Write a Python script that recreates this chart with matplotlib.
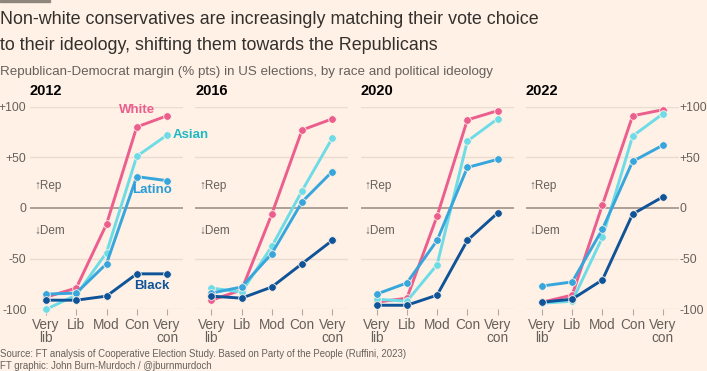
import matplotlib.pyplot as plt
from matplotlib.patches import Rectangle

# ideology categories and election years
categories = ["Very\nlib", "Lib", "Mod", "Con", "Very\ncon"]
years = ["2012", "2016", "2020", "2022"]

# Republican-Democrat margin (% pts), one list per year
white = [[-88, -79, -16, 80, 91],
         [-91, -81, -6, 77, 88],
         [-93, -89, -8, 87, 96],
         [-93, -86, 3, 91, 97]]
asian = [[-100, -86, -44, 51, 72],
         [-79, -83, -38, 17, 69],
         [-90, -92, -56, 66, 88],
         [-94, -92, -29, 71, 93]]
latino = [[-85, -84, -55, 31, 27],
          [-84, -78, -45, 6, 36],
          [-85, -74, -32, 40, 48],
          [-77, -73, -21, 46, 62]]
black = [[-91, -91, -87, -65, -65],
         [-87, -89, -78, -55, -32],
         [-96, -96, -86, -32, -5],
         [-93, -90, -71, -6, 11]]

yticks = [100, 50, 0, -50, -100]
ytick_labels = ["+100", "+50", "0", "-50", "-100"]

bg = "#fff1e5"
grey = "#66605c"
series = [
    ("White", white, "#eb5e8d"),
    ("Asian", asian, "#6ddce6"),
    ("Latino", latino, "#37a6dc"),
    ("Black", black, "#0f5499"),
]

plt.rcParams['font.family'] = ['Liberation Sans', 'DejaVu Sans']

fig = plt.figure(figsize=(7.07, 3.71), dpi=100, facecolor=bg)
W, H = 707, 371

# FT style bar at top
fig.patches.append(Rectangle((0, 1 - 2 / H), 50 / W, 2 / H, transform=fig.transFigure,
                             color="#8f867e", zorder=5))

fig.text(0 / W, 1 - 20 / H, "Non-white conservatives are increasingly matching their vote choice",
         fontsize=12.9, color="#33302e", va="center")
fig.text(0 / W, 1 - 45 / H, "to their ideology, shifting them towards the Republicans",
         fontsize=12.9, color="#33302e", va="center")
fig.text(0 / W, 1 - 72 / H, "Republican-Democrat margin (% pts) in US elections, by race and political ideology",
         fontsize=9.6, color=grey, va="center")
fig.text(0 / W, 1 - 354 / H,
         "Source: FT analysis of Cooperative Election Study. Based on Party of the People (Ruffini, 2023)",
         fontsize=6.9, color=grey, va="center")
fig.text(0 / W, 1 - 366 / H, "FT graphic: John Burn-Murdoch / @jburnmurdoch",
         fontsize=6.9, color=grey, va="center")

x = list(range(len(categories)))
ax_bottom = (H - 309.3) / H
ax_height = 202.6 / H

for i, year in enumerate(years):
    left = (30 + i * 165.3) / W
    ax = fig.add_axes([left, ax_bottom, 153 / W, ax_height])
    ax.set_facecolor(bg)
    ax.set_xlim(-0.53, 4.53)
    ax.set_ylim(-100, 100)
    for s in ax.spines.values():
        s.set_visible(False)
    for yv in yticks:
        if yv == 0:
            ax.axhline(0, color="#9e9189", lw=1.2, zorder=1)
        else:
            ax.axhline(yv, color="#eadcd0", lw=1, zorder=0)

    for name, data, col in series:
        ax.plot(x, data[i], color=col, lw=2.1, marker="o", markersize=5.5,
                markeredgecolor=bg, markeredgewidth=0.6, clip_on=False, zorder=3)

    ax.set_xticks(x)
    ax.set_xticklabels(categories, fontsize=9.8, color=grey, linespacing=0.95)
    ax.tick_params(axis="x", length=4, width=0.8, color="#b3a9a0", pad=2)
    ax.set_yticks(yticks)
    if i == 0:
        ax.set_yticklabels(ytick_labels, fontsize=8.8, color=grey)
        ax.tick_params(axis="y", length=0, pad=2.5)
    elif i == len(years) - 1:
        ax.yaxis.tick_right()
        ax.set_yticklabels(ytick_labels, fontsize=8.8, color=grey)
        ax.tick_params(axis="y", length=0, pad=0.5)
    else:
        ax.set_yticklabels([])
        ax.tick_params(axis="y", length=0)

    ax.text(0.0, 1.045, year, transform=ax.transAxes, fontsize=10.5, fontweight="bold",
            color="#000000", va="bottom", ha="left")
    ax.text(-0.4, 22, "↑Rep", fontsize=8.5, color=grey, va="center", ha="left")
    ax.text(-0.4, -23, "↓Dem", fontsize=8.5, color=grey, va="center", ha="left")

    if i == 0:
        # series labels drawn on the figure so they can spill over the next panel
        fig.text(3.0, 97, "White", transform=ax.transData, color="#eb5e8d", fontsize=9.5,
                 fontweight="bold", ha="center", va="center")
        fig.text(4.2, 72, "Asian", transform=ax.transData, color="#1fb8c2", fontsize=9.5,
                 fontweight="bold", ha="left", va="center")
        fig.text(3.5, 18, "Latino", transform=ax.transData, color="#2a9bd6", fontsize=9.5,
                 fontweight="bold", ha="center", va="center")
        fig.text(3.5, -77, "Black", transform=ax.transData, color="#0f5499", fontsize=9.5,
                 fontweight="bold", ha="center", va="center")

fig.savefig("out.png", dpi=100, facecolor=bg)
